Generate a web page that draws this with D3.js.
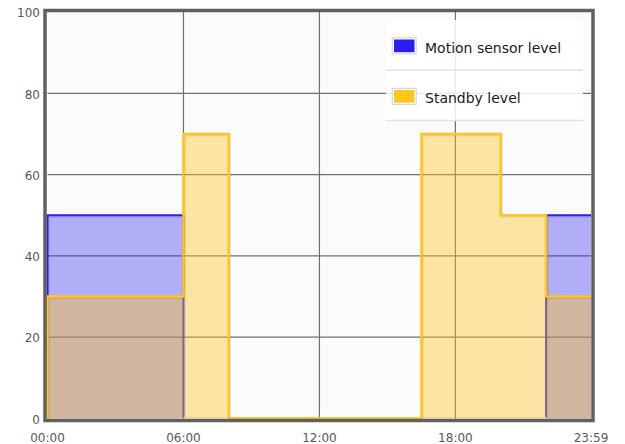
<!DOCTYPE html>
<html>
<head>
<meta charset="utf-8">
<script src="https://cdn.jsdelivr.net/npm/d3@7"></script>
<style>
  body { margin: 0; background: #fff; }
  text { font-family: "DejaVu Sans", Verdana, sans-serif; }
</style>
</head>
<body>
<div id="drawing"></div>
<script>
// values, time in minutes since 00:00
const motionTimes = [0, 0, 360, 1320, 1439];
const motionValues = [0, 50, 0, 50, 50];
const standbyTimes = [0, 0, 360, 480, 990, 1200, 1320, 1439];
const standbyValues = [0, 30, 70, 0, 70, 50, 30, 30];
const xTicks = [0, 360, 720, 1080, 1439];
const xTickLabels = ["00:00", "06:00", "12:00", "18:00", "23:59"];
const yTicks = [0, 20, 40, 60, 80, 100];
const seriesNames = ["Motion sensor level", "Standby level"];
const seriesColors = ["#2a1ef2", "#ffc61e"];

const width = 625;
const height = 444;
const plot = {left: 47.5, right: 591, top: 12, bottom: 418.5};

const svg = d3.select("#drawing").append("svg")
  .attr("width", width)
  .attr("height", height);

const xScale = d3.scaleLinear().domain([0, 1439]).range([plot.left, plot.right]);
const yScale = d3.scaleLinear().domain([0, 100]).range([plot.bottom, plot.top]);

// the blue line is clipped just above zero, so its bottom run hides like in the original
svg.append("clipPath").attr("id", "motionClip")
  .append("rect")
  .attr("x", 0).attr("y", 0)
  .attr("width", width).attr("height", yScale(0) - 1.3);

// plot background
svg.append("rect")
  .attr("x", plot.left).attr("y", plot.top)
  .attr("width", plot.right - plot.left).attr("height", plot.bottom - plot.top)
  .style("fill", "#fbfbfb");

// grid
const grid = svg.append("g");
grid.selectAll(".vgrid").data(xTicks.slice(1, -1)).join("line")
  .attr("x1", d => xScale(d)).attr("x2", d => xScale(d))
  .attr("y1", plot.top).attr("y2", plot.bottom)
  .style("stroke", "#707070").style("stroke-width", 1.2);
grid.selectAll(".hgrid").data(yTicks.slice(1, -1)).join("line")
  .attr("x1", plot.left).attr("x2", plot.right)
  .attr("y1", d => yScale(d)).attr("y2", d => yScale(d))
  .style("stroke", "#707070").style("stroke-width", 1.2);

const series = [
  motionTimes.map((t, i) => ({t: t, v: motionValues[i]})),
  standbyTimes.map((t, i) => ({t: t, v: standbyValues[i]}))
];

const area = d3.area()
  .x(d => xScale(d.t))
  .y0(yScale(0))
  .y1(d => yScale(d.v))
  .curve(d3.curveStepAfter);

const line = d3.line()
  .x(d => xScale(d.t))
  .y(d => yScale(d.v))
  .curve(d3.curveStepAfter);

series.forEach((s, i) => {
  svg.append("path")
    .attr("d", area(s))
    .style("fill", seriesColors[i])
    .style("fill-opacity", i == 0 ? 0.35 : 0.4);
  const lines = svg.append("g");
  if (i == 0) lines.attr("clip-path", "url(#motionClip)");
  // soft shadow like the original
  lines.append("path")
    .attr("d", line(s))
    .attr("transform", "translate(0.8,1)")
    .style("fill", "none")
    .style("stroke", "rgba(0,0,0,0.08)")
    .style("stroke-width", 3);
  lines.append("path")
    .attr("d", line(s))
    .style("fill", "none")
    .style("stroke", seriesColors[i])
    .style("stroke-width", i == 0 ? 2 : 2.5);
});

// border
svg.append("rect")
  .attr("x", 45).attr("y", 10.5)
  .attr("width", 548).attr("height", 410)
  .style("fill", "none")
  .style("stroke", "#606060")
  .style("stroke-width", 3.5);

// y labels
svg.selectAll(".ylab").data(yTicks).join("text")
  .attr("x", 40)
  .attr("y", d => yScale(d) + 1)
  .attr("dy", "0.35em")
  .attr("text-anchor", "end")
  .style("font-size", "12px")
  .style("fill", "#585858")
  .text(d => d);

// x labels
svg.selectAll(".xlab").data(xTicks).join("text")
  .attr("x", d => xScale(d))
  .attr("y", 442)
  .attr("text-anchor", "middle")
  .style("font-size", "12px")
  .style("fill", "#585858")
  .text((d, i) => xTickLabels[i]);

// legend
const legend = svg.append("g");
legend.append("rect")
  .attr("x", 386).attr("y", 20)
  .attr("width", 197).attr("height", 101)
  .style("fill", "#fff")
  .style("fill-opacity", 0.85);

seriesNames.forEach((name, i) => {
  const y0 = 20 + i * 50.5;
  legend.append("rect")
    .attr("x", 392.2).attr("y", y0 + 17.8)
    .attr("width", 24).attr("height", 16)
    .style("fill", "#fff")
    .style("stroke", "#cfcfcf")
    .style("stroke-width", 1);
  legend.append("rect")
    .attr("x", 394).attr("y", y0 + 19.5)
    .attr("width", 20.5).attr("height", 12.7)
    .style("fill", seriesColors[i]);
  legend.append("text")
    .attr("x", 425).attr("y", y0 + 32.5)
    .style("font-size", "14px")
    .style("fill", "#1a1a1a")
    .text(name);
  legend.append("line")
    .attr("x1", 386).attr("x2", 583)
    .attr("y1", y0 + 50).attr("y2", y0 + 50)
    .style("stroke", "#e2e2e2")
    .style("stroke-width", 1.5);
});
</script>
</body>
</html>
